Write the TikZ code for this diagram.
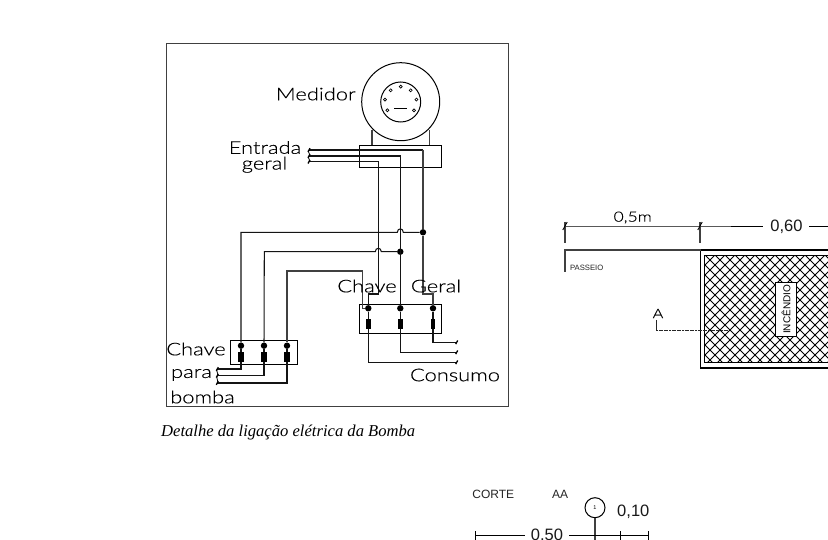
\documentclass[tikz,border=0pt]{standalone}
\usepackage{fontspec}
\setmainfont{Liberation Sans}
\newfontfamily\cadfont[FakeStretch=1.25,FakeBold=0.3]{Lato Light}
\newfontfamily\capfont{Liberation Serif}
\tikzset{
  wire/.style={draw=black!92,line width=1.05pt},
  greywire/.style={draw=black!75,line width=1.1pt},
  frameline/.style={draw=black!75,line width=1pt},
  thinline/.style={draw=black,line width=0.9pt},
  dotmark/.style={circle,fill=black,inner sep=0pt,minimum size=6.4pt},
  fusemark/.style={rectangle,fill=black,inner sep=0pt,minimum width=4.8pt},
  cad/.style={inner sep=0pt,font=\cadfont\fontsize{17.5}{18}\selectfont,text=black},
  dimtext/.style={inner sep=0pt,font=\fontsize{16.5}{17}\selectfont,text=black!90},
  smalltext/.style={inner sep=0pt,font=\fontsize{12}{13}\selectfont,text=black!85},
  tickmark/.style={draw=black,line width=0.9pt},
  boxline/.style={draw=black,line width=1pt},
}
\begin{document}
\begin{tikzpicture}[x=1pt,y=-1pt]
\useasboundingbox (0,0) rectangle (828,540);
\clip (0,0) rectangle (828,540);
\fill[white] (0,0) rectangle (828,540);

% ----- left panel
\draw[frameline] (166,44) rectangle (508,406);
\node[boxline,circle,minimum size=78pt,inner sep=0pt] (dial) at (400.7,101.7) {};
\node[boxline,circle,minimum size=40pt,inner sep=0pt] (face) at (400.7,102) {};
\foreach \dx/\dy in {0/-15.7,-10/-12,10/-12,-15.7/-2.7,15.7/-2.7,-13.3/8,13.3/8}
  \draw[black,line width=0.7pt] (400.7+\dx,102.3+\dy) circle[radius=1.5];
\draw[black,line width=1.8pt] (394.4,108.6) -- (407,108.6);
\node[boxline,minimum width=81.6pt,minimum height=21.7pt,inner sep=0pt] (mbox) at (400.5,156.2) {};
\draw[greywire] (372,130) -- (372,145.3);
\draw[greywire] (429.3,130) -- (429.3,145.3);

% junction coordinates
\coordinate (inA) at (309,150);
\coordinate (inB) at (309,156);
\coordinate (inC) at (309,161.7);
\coordinate (kA) at (423,150);
\coordinate (kB) at (400.3,156);
\coordinate (kC) at (378.3,161.7);

\node[dotmark] (j1) at (423,232.3) {};
\node[dotmark] (j2) at (400.3,251.7) {};

% Main switch box
\node[boxline,minimum width=81.6pt,minimum height=29pt,inner sep=0pt] (gbox) at (400.5,318.8) {};
\node[dotmark] (g1) at (368.3,308.3) {};
\node[dotmark] (g2) at (400.3,308.3) {};
\node[dotmark] (g3) at (433,308.3) {};
\node[fusemark,minimum height=10.5pt] (f1) at (368.3,324) {};
\node[fusemark,minimum height=10.5pt] (f2) at (400.3,324) {};
\node[fusemark,minimum height=10.5pt] (f3) at (433,324) {};
\draw[wire] (g1) -- (f1); \draw[wire] (g2) -- (f2); \draw[wire] (g3) -- (f3);

% Pump switch box
\node[boxline,minimum width=67.4pt,minimum height=24.4pt,inner sep=0pt] (pbox) at (264,352.5) {};
\node[dotmark] (p1) at (241,345.7) {};
\node[dotmark] (p2) at (264,345.7) {};
\node[dotmark] (p3) at (287,345.7) {};
\node[fusemark,minimum height=9.4pt,minimum width=6.2pt] (q1) at (241,357) {};
\node[fusemark,minimum height=9.4pt,minimum width=6.2pt] (q2) at (264,357) {};
\node[fusemark,minimum height=9.4pt,minimum width=6.2pt] (q3) at (287,357) {};

% Entry wires
\draw[wire] (inA) -- (kA);
\draw[wire] (inB) -- (kB) -- (g2);
\draw[wire] (inC) -- (kC) -- (378.3,294) -- (368.3,294) -- (g1);
\draw[greywire] (kA) -- (j1) -- (423,294) -- (433,294) -- (g3);

% Branches to the pump switch
\draw[wire] (j1) -- (403.3,232.3) .. controls (403.3,227.8) and (397.3,227.8) .. (397.3,232.3) -- (241,232.3) -- (p1);
\draw[wire] (j2) -- (381.3,251.7) .. controls (381.3,247.2) and (375.3,247.2) .. (375.3,251.7) -- (264.3,251.7) -- (p2);
\draw[greywire] (g1) -- (362.7,308.3) -- (362.7,271) -- (287,271) -- (p3);
\draw[wire] (p1) -- (q1); \draw[wire] (p2) -- (q2); \draw[wire] (p3) -- (q3);

% Outputs
\coordinate (cA) at (456.7,342.3);
\coordinate (cB) at (456.7,352.3);
\coordinate (cC) at (456.7,362.3);
\draw[wire] (f3) -- (433,342.3) -- (cA);
\draw[wire] (f2) -- (400.3,352.3) -- (cB);
\draw[wire] (f1) -- (368.3,362.3) -- (cC);
\coordinate (dA) at (217.3,369);
\coordinate (dB) at (217.3,375.7);
\coordinate (dC) at (217.3,383);
\draw[wire] (q1) -- (241,369) -- (dA);
\draw[wire] (q2) -- (264,375.7) -- (dB);
\draw[wire] (q3) -- (287,383) -- (dC);
\foreach \c in {inA,inB,inC,cA,cB,cC,dA,dB,dC}
  \draw[tickmark,line width=1.3pt] ([shift={(-1,1.8)}]\c) -- ([shift={(1,-1.8)}]\c);
\draw[tickmark,line width=0.8pt] (inA) .. controls (307,152) and (311,154) .. (inB) .. controls (307,158) and (311,160) .. (inC);
\draw[tickmark,line width=0.8pt] (dA) .. controls (215.5,371) and (219,373.5) .. (dB) .. controls (215.5,378) and (219,380.5) .. (dC);

% Left labels
\node[cad] (tMed) at (315.8,94) {Medidor};
\node[cad] (tEnt) at (265,147.5) {Entrada};
\node[cad,anchor=base] (tGer) at (264.5,169.5) {geral};
\node[cad] (tCh) at (367,286) {Chave};
\node[cad] (tGe) at (436,286) {Geral};
\node[cad] (tCh2) at (196,349) {Chave};
\node[cad] (tPa) at (191.5,375) {para};
\node[cad] (tBo) at (202.5,397) {bomba};
\node[cad] (tCo) at (455,375) {Consumo};
\node[inner sep=0pt,anchor=west,font=\capfont\itshape\fontsize{16.6}{17}\selectfont] (cap) at (161,432) {Detalhe da ligação elétrica da Bomba};

% ----- right plan
\begin{scope}
\clip (704.7,255.7) rectangle (850,362.7);
\foreach \k in {0,...,40} {
  \draw[black,line width=0.75pt] (560+\k*10,250) -- (560+\k*10+120,370);
  \draw[black,line width=0.75pt] (680+\k*10,250) -- (680+\k*10-120,370);
}
\end{scope}
\draw[black,line width=1pt] (830,255.7) -- (704.7,255.7) -- (704.7,362.7) -- (830,362.7);
\draw[black,line width=1.1pt] (830,250) -- (700.5,250) -- (700.5,368) -- (830,368);
\coordinate (walkEnd) at (565,250);
\coordinate (wallTop) at (700.5,250);
\draw[greywire,line width=1.2pt] (wallTop) -- (walkEnd) -- (565,272);
\node[boxline,fill=white,minimum width=20.6pt,minimum height=53.3pt,inner sep=0pt] (lab) at (786,309.4) {};
\node[rotate=90,inner sep=0pt,font=\fontsize{10}{11}\selectfont] (labt) at (786,309.4) {INCÊNDIO};
\node[inner sep=0pt,font=\fontsize{7.7}{8}\selectfont,text=black!85] (pas) at (586.7,268.3) {PASSEIO};

\coordinate (d1) at (565,226);
\coordinate (d2) at (700,226);
\coordinate (d3) at (828,226);
\node[inner sep=0pt,font=\cadfont\fontsize{14}{15}\selectfont,text=black] (t05) at (632.7,217.5) {0,5m};
\node[dimtext] (t060) at (786.5,226.5) {0,60};
\draw[thinline] (d1) -- (d2) -- (763,226);
\draw[thinline] (809,226) -- (d3);
\draw[greywire] (565,222) -- (565,243);
\draw[greywire] (700,222) -- (700,243);
\foreach \c in {d1,d2}
  \draw[tickmark] ([shift={(-2.2,4)}]\c) -- ([shift={(2.2,-4)}]\c);

\node[inner sep=0pt,font=\cadfont\fontsize{13}{14}\selectfont] (tA) at (658,313.5) {A};
\draw[black!85,line width=0.9pt] (656,320) -- (656,330);
\draw[black!85,line width=0.9pt,dash pattern=on 2pt off 0.6pt] (656,330) -- (728.3,330);

% ----- bottom section
\node[smalltext] (tCor) at (493.3,494) {CORTE};
\node[smalltext] (tAA) at (560,494) {AA};
\node[boxline,circle,minimum size=20pt,inner sep=0pt,font=\fontsize{5.5}{6}\selectfont] (mark) at (595,507.7) {1};
\draw[greywire] (mark) -- (595,540);
\node[dimtext] (t010) at (633.3,511.7) {0,10};
\node[dimtext] (t050) at (547,535.8) {0,50};
\coordinate (b1) at (475,535.7);
\coordinate (b2) at (620,535.7);
\coordinate (b3) at (648,535.7);
\draw[thinline] (b1) -- (525,535.7);
\draw[thinline] (569,535.7) -- (b2) -- (b3);
\foreach \c in {b1,b2,b3}
  \draw[tickmark] ([shift={(0,5)}]\c) -- ([shift={(0,-5)}]\c);
\end{tikzpicture}
\end{document}
